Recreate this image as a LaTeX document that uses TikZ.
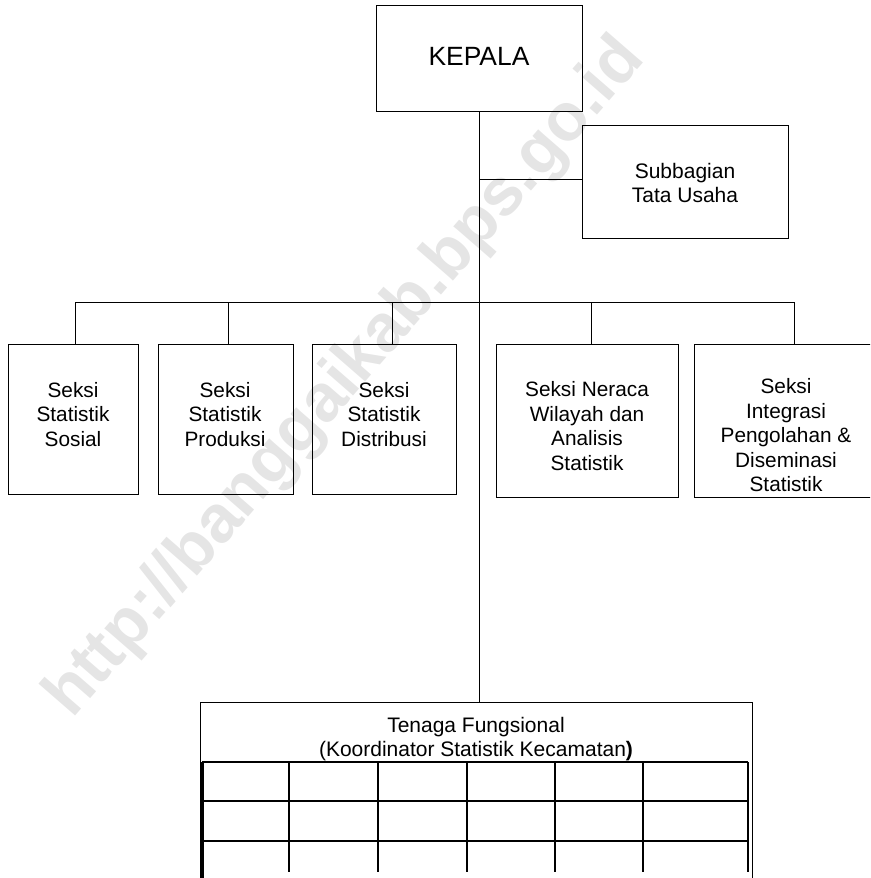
\documentclass[tikz,border=0pt]{standalone}
\usepackage{fontspec}
\setmainfont{Liberation Sans}
\begin{document}
\begin{tikzpicture}[x=1pt,y=-1pt,
  orgbox/.style={draw=black,line width=1pt,rectangle,inner sep=0pt},
  conn/.style={draw=black,line width=1pt},
  lbl/.style={inner sep=0pt,align=center,font=\fontsize{20.8}{24.5}\selectfont},
  gridline/.style={draw=black,line width=1.5pt},
  wm/.style={inner sep=0pt,text=black!10,font=\bfseries\fontsize{67}{72}\selectfont}]
\useasboundingbox (0,0) rectangle (870,878);
\clip (0,0) rectangle (870,878);
% watermark
\node[wm,rotate=49,anchor=base west] (wmk) at (72,720) {http://banggaikab.bps.go.id};
% boxes
\node[orgbox,minimum width=206pt,minimum height=106pt] (kepala) at (479,58) {};
\node[inner sep=0pt,anchor=base,font=\fontsize{26.4}{30}\selectfont] (tkepala) at (479,65) {KEPALA};
\node[orgbox,minimum width=206pt,minimum height=113pt] (subbag) at (685,181.5) {};
\node[lbl,anchor=north,font=\fontsize{21}{24}\selectfont] (tsubbag) at (685,163) {Subbagian\\Tata Usaha};
\node[orgbox,minimum width=130pt,minimum height=150pt] (b1) at (73,419) {};
\node[orgbox,minimum width=135pt,minimum height=150pt] (b2) at (225.5,419) {};
\node[orgbox,minimum width=144pt,minimum height=150pt] (b3) at (384,419) {};
\node[orgbox,minimum width=182pt,minimum height=153pt] (b4) at (587,420.5) {};
\node[orgbox,minimum width=184pt,minimum height=153pt] (b5) at (786,420.5) {};
\node[lbl,anchor=north] (t1) at (73,382) {Seksi\\Statistik\\Sosial};
\node[lbl,anchor=north] (t2) at (225,382) {Seksi\\Statistik\\Produksi};
\node[lbl,anchor=north] (t3) at (384,382) {Seksi\\Statistik\\Distribusi};
\node[lbl,anchor=north] (t4) at (587,381.5) {Seksi Neraca\\Wilayah dan\\Analisis\\Statistik};
\node[lbl,anchor=north] (t5) at (786,378.5) {Seksi\\Integrasi\\Pengolahan \&\\Diseminasi\\Statistik};
% table frame
\node[orgbox,minimum width=552pt,minimum height=200pt] (tf) at (476,802) {};
\node[lbl,anchor=north,font=\fontsize{21}{24}\selectfont] (ttf) at (476,717) {Tenaga Fungsional\\(Koordinator Statistik Kecamatan\textbf{)}};
% connectors
\coordinate (sbj) at (479,179);
\draw[conn] (kepala.south) -- (kepala.south |- tf.north);
\draw[conn] (sbj) -- (sbj -| subbag.west);
\coordinate (bus1) at (75,302);
\coordinate (bus2) at (228,302);
\coordinate (bus3) at (392,302);
\coordinate (bus4) at (591,302);
\coordinate (bus5) at (794,302);
\draw[conn] (bus1) -- (bus5);
\draw[conn] (bus1) -- (bus1 |- b1.north);
\draw[conn] (bus2) -- (bus2 |- b2.north);
\draw[conn] (bus3) -- (bus3 |- b3.north);
\draw[conn] (bus4) -- (bus4 |- b4.north);
\draw[conn] (bus5) -- (bus5 |- b5.north);
% grid
\draw[gridline] (202,762) -- (748,762);
\draw[gridline] (202,801) -- (748,801);
\draw[gridline] (202,841) -- (748,841);
\draw[draw=black,line width=2.5pt] (202.5,762) -- (202.5,878);
\foreach \gx in {289,378,467,555,643,748}{
  \draw[gridline] (\gx,762) -- (\gx,872);
}
\end{tikzpicture}
\end{document}
